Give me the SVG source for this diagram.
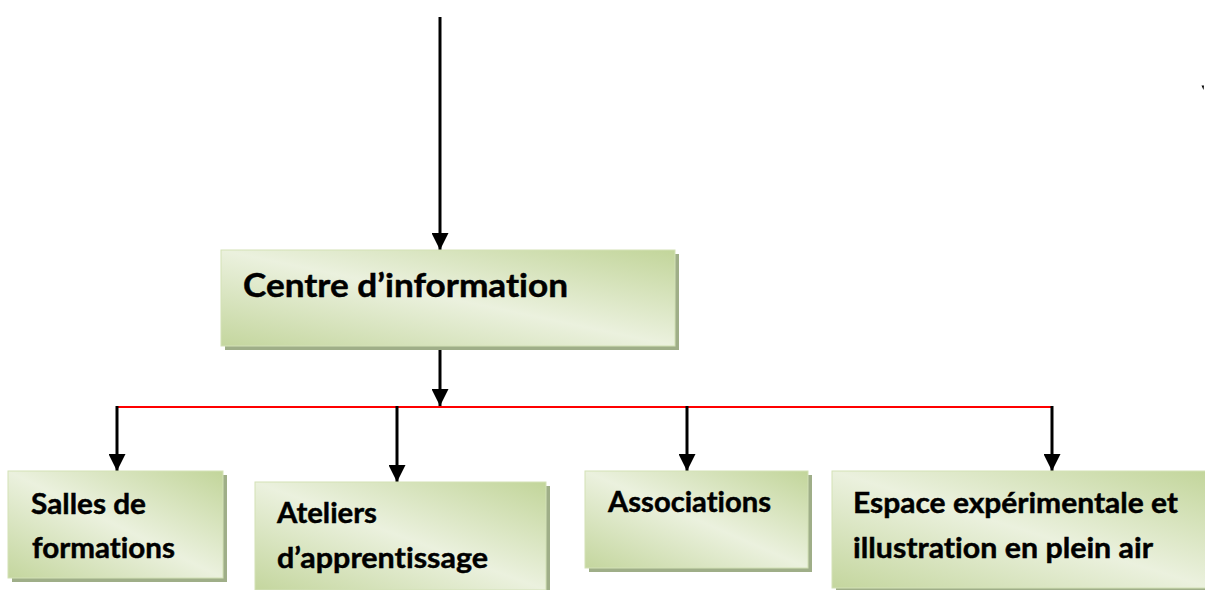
<svg xmlns="http://www.w3.org/2000/svg" width="1205" height="590" viewBox="0 0 1205 590">
  <defs>
    <!-- soft green fill, darker toward the top-right and bottom-left corners -->
    <linearGradient id="greenFill" x1="1" y1="0" x2="0" y2="1">
      <stop offset="0" stop-color="#c2d59a"/>
      <stop offset="0.5" stop-color="#ebf1de"/>
      <stop offset="1" stop-color="#c4d69e"/>
    </linearGradient>
    <marker id="arrow" viewBox="0 0 17 17" refX="17" refY="8.5" markerWidth="17" markerHeight="17" markerUnits="userSpaceOnUse" orient="auto">
      <path d="M0,0 L17,8.5 L0,17 Z" fill="#000"/>
    </marker>
    <style>
      .shadow { fill: #9fae88; }
      .box { fill: url(#greenFill); stroke: #d3e1b6; stroke-width: 1; }
      .label { font-family: Lato, "Open Sans", "Liberation Sans", sans-serif; font-weight: 700; fill: #000; stroke: #000; stroke-width: 0.45; font-variant-ligatures: none; font-feature-settings: "liga" 0, "clig" 0; }
      .big { font-size: 33px; }
      .small { font-size: 28.5px; }
      .link { stroke: #000; stroke-width: 3; fill: none; }
      .bus { stroke: #ff0000; stroke-width: 2; fill: none; }
    </style>
  </defs>

  <rect width="1205" height="590" fill="#ffffff"/>

  <!-- connectors -->
  <g id="connectors">
    <line class="link" x1="440" y1="17" x2="440" y2="250" marker-end="url(#arrow)"/>
    <line class="link" x1="440" y1="346" x2="440" y2="406" marker-end="url(#arrow)"/>
    <line class="bus" x1="116" y1="407" x2="1053" y2="407"/>
    <line class="link" x1="117" y1="406" x2="117" y2="471" marker-end="url(#arrow)"/>
    <line class="link" x1="397" y1="406" x2="397" y2="482" marker-end="url(#arrow)"/>
    <line class="link" x1="687" y1="406" x2="687" y2="471" marker-end="url(#arrow)"/>
    <line class="link" x1="1052" y1="406" x2="1052" y2="471" marker-end="url(#arrow)"/>
  </g>

  <!-- Centre d'information -->
  <g id="centre">
    <rect class="shadow" x="225" y="254" width="454" height="96"/>
    <rect class="box" x="221" y="250" width="454" height="96"/>
    <text class="label big" x="243" y="297" textLength="325" lengthAdjust="spacingAndGlyphs">Centre d’information</text>
  </g>

  <!-- Salles de formations -->
  <g id="salles">
    <rect class="shadow" x="12" y="475" width="215" height="107"/>
    <rect class="box" x="8" y="471" width="215" height="107"/>
    <text class="label small" x="31" y="514" textLength="115" lengthAdjust="spacingAndGlyphs">Salles de</text>
    <text class="label small" x="32" y="558" textLength="143" lengthAdjust="spacingAndGlyphs">formations</text>
  </g>

  <!-- Ateliers d'apprentissage -->
  <g id="ateliers">
    <rect class="shadow" x="259" y="486" width="291" height="108"/>
    <rect class="box" x="255" y="482" width="291" height="108"/>
    <text class="label small" x="277" y="523" textLength="100" lengthAdjust="spacingAndGlyphs">Ateliers</text>
    <text class="label small" x="277" y="568" textLength="211" lengthAdjust="spacingAndGlyphs">d’apprentissage</text>
  </g>

  <!-- Associations -->
  <g id="associations">
    <rect class="shadow" x="589" y="475" width="223" height="97"/>
    <rect class="box" x="585" y="471" width="223" height="97"/>
    <text class="label small" x="608" y="512" textLength="163" lengthAdjust="spacingAndGlyphs">Associations</text>
  </g>

  <!-- Espace expérimentale et illustration en plein air -->
  <g id="espace">
    <rect class="shadow" x="836" y="475" width="380" height="117"/>
    <rect class="box" x="832" y="471" width="380" height="117"/>
    <text class="label small" x="853" y="513" textLength="325" lengthAdjust="spacingAndGlyphs">Espace expérimentale et</text>
    <text class="label small" x="853" y="558" textLength="300" lengthAdjust="spacingAndGlyphs">illustration en plein air</text>
  </g>

  <!-- stray mark near the right edge -->
  <path d="M1201.5,85.5 L1204,85.5 L1203.5,90 Z" fill="#000"/>
</svg>
